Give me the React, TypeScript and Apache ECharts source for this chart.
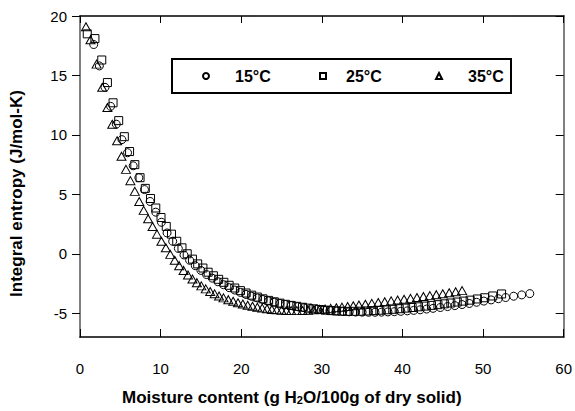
import React, { useEffect, useRef } from 'react';
import * as echarts from 'echarts';

const seriesNames = ['15°C', '25°C', '35°C'];
const xTicks = [0, 10, 20, 30, 40, 50, 60];
const yTicks = [-5, 0, 5, 10, 15, 20];

// 15 °C (circles)
const x15 = [1.7, 2.4, 3.1, 3.8, 4.5, 5.2, 5.9, 6.6, 7.3, 8.0, 8.7, 9.4, 10.1, 10.8, 11.5, 12.2, 12.9, 13.6, 14.3, 15.0,
  15.7, 16.4, 17.1, 17.8, 18.5, 19.2, 19.9, 20.6, 21.3, 22.0, 22.7, 23.4, 24.1, 24.8, 25.5, 26.2, 27.0, 27.8, 28.6, 29.4,
  30.2, 31.0, 31.8, 32.6, 33.4, 34.2, 35.0, 35.8, 36.6, 37.4, 38.2, 39.0, 39.8, 40.6, 41.4, 42.2, 43.0, 43.8, 44.7, 45.6,
  46.5, 47.4, 48.3, 49.2, 50.1, 51.0, 51.9, 52.8, 53.8, 54.8, 55.8];
const y15 = [17.6, 15.8, 14.0, 12.4, 10.9, 9.6, 8.5, 7.4, 6.4, 5.4, 4.4, 3.5, 2.65, 1.75, 1.05, 0.45, -0.1, -0.55, -1.0, -1.4,
  -1.75, -2.05, -2.35, -2.6, -2.85, -3.05, -3.25, -3.42, -3.58, -3.72, -3.85, -3.97, -4.08, -4.18, -4.27, -4.36, -4.45, -4.53, -4.6, -4.66,
  -4.72, -4.77, -4.81, -4.85, -4.88, -4.9, -4.91, -4.92, -4.92, -4.91, -4.89, -4.87, -4.84, -4.8, -4.76, -4.71, -4.65, -4.59, -4.52, -4.44,
  -4.36, -4.27, -4.18, -4.08, -3.98, -3.88, -3.78, -3.68, -3.57, -3.46, -3.35];

// 25 °C (squares)
const x25 = [0.9, 1.85, 2.7, 3.4, 4.1, 4.8, 5.5, 6.15, 6.8, 7.45, 8.1, 8.75, 9.4, 10.05, 10.7, 11.35, 12.0, 12.65, 13.3, 13.95,
  14.6, 15.25, 15.9, 16.55, 17.2, 17.85, 18.5, 19.2, 19.9, 20.6, 21.3, 22.0, 22.7, 23.4, 24.1, 24.8, 25.5, 26.2, 26.9, 27.6,
  28.3, 29.0, 29.7, 30.4, 31.1, 31.8, 32.5, 33.2, 34.0, 34.8, 35.6, 36.4, 37.2, 38.0, 38.8, 39.6, 40.4, 41.2, 42.0, 42.8,
  43.6, 44.4, 45.2, 46.0, 46.8, 47.6, 48.4, 49.3, 50.2, 51.2, 52.3];
const y25 = [18.5, 18.1, 16.3, 14.4, 12.7, 11.2, 9.85, 8.6, 7.5, 6.4, 5.5, 4.65, 3.85, 3.05, 2.3, 1.65, 1.05, 0.5, 0.0, -0.45,
  -0.85, -1.2, -1.55, -1.85, -2.15, -2.4, -2.65, -2.88, -3.1, -3.3, -3.48, -3.64, -3.79, -3.92, -4.04, -4.15, -4.25, -4.34, -4.42, -4.5,
  -4.57, -4.63, -4.69, -4.74, -4.78, -4.81, -4.83, -4.84, -4.84, -4.83, -4.81, -4.78, -4.75, -4.71, -4.67, -4.62, -4.57, -4.52, -4.46, -4.4,
  -4.34, -4.28, -4.21, -4.14, -4.06, -3.98, -3.9, -3.8, -3.7, -3.55, -3.38];

// 35 °C (triangles)
const x35 = [0.74, 1.3, 2.06, 2.76, 3.4, 4.0, 4.6, 5.15, 5.7, 6.25, 6.8, 7.35, 7.9, 8.45, 9.0, 9.55, 10.1, 10.65, 11.2, 11.75,
  12.3, 12.85, 13.4, 13.95, 14.5, 15.05, 15.6, 16.15, 16.7, 17.25, 17.8, 18.4, 19.0, 19.6, 20.2, 20.8, 21.4, 22.0, 22.6, 23.2,
  23.8, 24.4, 25.0, 25.6, 26.2, 26.9, 27.6, 28.3, 29.0, 29.7, 30.4, 31.1, 31.8, 32.5, 33.2, 33.9, 34.6, 35.4, 36.2, 37.0,
  37.8, 38.6, 39.4, 40.2, 41.0, 41.8, 42.6, 43.4, 44.2, 45.0, 45.8, 46.6, 47.4];
const y35 = [19.1, 18.0, 15.95, 14.0, 12.3, 10.9, 9.5, 8.2, 7.1, 6.15, 5.25, 4.4, 3.65, 2.95, 2.3, 1.65, 1.05, 0.5, -0.05, -0.55,
  -1.0, -1.4, -1.78, -2.12, -2.43, -2.7, -2.95, -3.17, -3.37, -3.55, -3.71, -3.86, -4.0, -4.12, -4.23, -4.33, -4.42, -4.5, -4.57, -4.63,
  -4.68, -4.72, -4.75, -4.77, -4.78, -4.78, -4.77, -4.75, -4.72, -4.68, -4.64, -4.59, -4.54, -4.49, -4.43, -4.37, -4.31, -4.24, -4.17, -4.1,
  -4.03, -3.96, -3.89, -3.82, -3.75, -3.68, -3.6, -3.52, -3.44, -3.36, -3.28, -3.2, -3.1];

const FONT = "'Liberation Sans', Arial, Helvetica, sans-serif";

export default function App() {
  const ref = useRef<HTMLDivElement>(null);

  useEffect(() => {
    const chart = echarts.init(ref.current as HTMLDivElement, null, { renderer: 'svg' });

    const mk = (name: string, xs: number[], ys: number[], symbol: string, size: any) => ({
      type: 'scatter',
      name,
      data: xs.map((x, i) => [x, ys[i]]),
      symbol,
      symbolSize: size,
      xAxisIndex: 0,
      yAxisIndex: 0,
      itemStyle: { color: 'rgba(0,0,0,0)', borderColor: '#000', borderWidth: 1, opacity: 1 },
      emphasis: { disabled: true },
    });

    const legendBase = (name: string, left: number, pad: number) => ({
      data: [name],
      left,
      top: 67,
      padding: 0,
      itemWidth: 6,
      itemHeight: 6,
      selectedMode: false,
      textStyle: {
        fontFamily: FONT,
        fontWeight: 'bold',
        fontSize: 16,
        lineHeight: 18,
        color: '#000',
        padding: [0, 0, 0, pad],
      },
    });

    chart.setOption({
      animation: false,
      backgroundColor: '#fff',
      textStyle: { fontFamily: FONT },
      grid: { left: 80, right: 9, top: 16, bottom: 73, containLabel: false },
      legend: [
        legendBase(seriesNames[0], 202, 21),
        legendBase(seriesNames[1], 319, 15),
        legendBase(seriesNames[2], 435, 21),
      ],
      graphic: [
        {
          type: 'rect',
          shape: { x: 172, y: 59, width: 339, height: 34 },
          style: { fill: 'none', stroke: '#000', lineWidth: 2 },
          silent: true,
          z: 10,
        },
      ],
      xAxis: [
        {
          type: 'value',
          min: xTicks[0],
          max: xTicks[xTicks.length - 1],
          interval: 10,
          position: 'bottom',
          axisLine: { onZero: false, lineStyle: { color: '#000', width: 1.5 } },
          axisTick: { inside: true, length: 8, lineStyle: { color: '#000', width: 1 } },
          axisLabel: { margin: 24, fontSize: 15, color: '#000', fontFamily: FONT },
          splitLine: { show: false },
          name: '{t|Moisture content (g H}{s|2}{t|O/100g of dry solid)}',
          nameLocation: 'middle',
          nameGap: 52,
          nameTextStyle: {
            padding: [0, 60, 0, 0],
            rich: {
              t: { fontFamily: FONT, fontWeight: 'bold', fontSize: 17, color: '#000' },
              s: { fontFamily: FONT, fontWeight: 'bold', fontSize: 11, color: '#000', padding: [5, 0, 0, 0] },
            },
          },
        },
        {
          type: 'value',
          min: xTicks[0],
          max: xTicks[xTicks.length - 1],
          interval: 10,
          position: 'top',
          axisLine: { onZero: false, lineStyle: { color: '#000', width: 1.5 } },
          axisTick: { inside: true, length: 7, lineStyle: { color: '#000', width: 1 } },
          axisLabel: { show: false },
          splitLine: { show: false },
        },
      ],
      yAxis: [
        {
          type: 'value',
          min: -7,
          max: 20,
          position: 'left',
          axisLine: { onZero: false, lineStyle: { color: '#808080', width: 2 } },
          axisTick: { customValues: yTicks, length: 8, lineStyle: { color: '#000', width: 1 } },
          axisLabel: { customValues: yTicks, margin: 13, fontSize: 15, color: '#000', fontFamily: FONT },
          splitLine: { show: false },
          name: 'Integral entropy (J/mol-K)',
          nameLocation: 'middle',
          nameGap: 55,
          nameTextStyle: { fontFamily: FONT, fontWeight: 'bold', fontSize: 17, color: '#000', padding: [0, 34, 0, 0] },
        },
        {
          type: 'value',
          min: -7,
          max: 20,
          position: 'right',
          axisLine: { onZero: false, lineStyle: { color: '#808080', width: 2 } },
          axisTick: { customValues: yTicks, inside: true, length: 8, lineStyle: { color: '#000', width: 1 } },
          axisLabel: { show: false },
          splitLine: { show: false },
        },
      ],
      series: [
        mk(seriesNames[0], x15, y15, 'circle', 8),
        mk(seriesNames[1], x25, y25, 'rect', 8),
        mk(seriesNames[2], x35, y35, 'triangle', [9, 8]),
      ],
    });

    return () => chart.dispose();
  }, []);

  return <div ref={ref} style={{ position: 'fixed', left: 0, top: 0, width: 575, height: 411 }} />;
}
